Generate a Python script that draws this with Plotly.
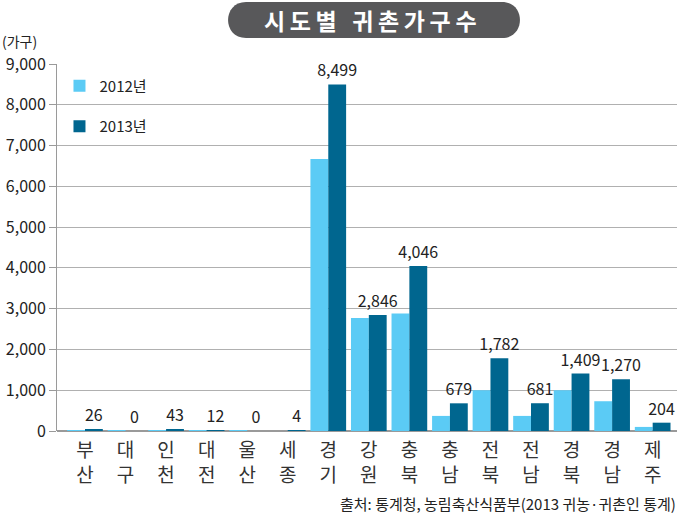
import plotly.graph_objects as go

# 시도별 귀촌가구수 (2012 vs 2013)
regions = ["부<br>산", "대<br>구", "인<br>천", "대<br>전", "울<br>산", "세<br>종", "경<br>기",
           "강<br>원", "충<br>북", "충<br>남", "전<br>북", "전<br>남", "경<br>북", "경<br>남", "제<br>주"]
households_2012 = [10, 5, 20, 15, 3, 0, 6670, 2770, 2880, 370, 1000, 370, 1000, 730, 100]
households_2013 = [26, 0, 43, 12, 0, 4, 8499, 2846, 4046, 679, 1782, 681, 1409, 1270, 204]
y_ticks = [0, 1000, 2000, 3000, 4000, 5000, 6000, 7000, 8000, 9000]

C2012 = "#5bcbf5"
C2013 = "#00668f"
FONT = "Noto Sans CJK KR"

fig = go.Figure()
fig.add_trace(go.Bar(
    x=list(range(len(regions))), y=households_2012, name="2012년",
    marker=dict(color=C2012, line=dict(width=0)), legendgroup="a",
))
fig.add_trace(go.Bar(
    x=list(range(len(regions))), y=households_2013, name="2013년",
    marker=dict(color=C2013, line=dict(width=0)), legendgroup="b",
    text=[f"{v:,}" for v in households_2013], textposition="outside",
    constraintext="none",
    textfont=dict(size=16, color="#222", family=FONT), cliponaxis=False,
))

# 제목 배경 (둥근 캡슐 모양) - paper 좌표
W, H = 620.0, 367.0
def px(x):
    return (x - 57) / W
def py(y):
    return 1 + (64 - y) / H

x0, x1, yt, yb, r = 228, 520, 2, 38, 18
k = r * 1.33
path = (
    f"M {px(x0 + r)} {py(yt)} L {px(x1 - r)} {py(yt)} "
    f"C {px(x1 - r + k)} {py(yt)} {px(x1 - r + k)} {py(yb)} {px(x1 - r)} {py(yb)} "
    f"L {px(x0 + r)} {py(yb)} "
    f"C {px(x0 + r - k)} {py(yb)} {px(x0 + r - k)} {py(yt)} {px(x0 + r)} {py(yt)} Z"
)
fig.add_shape(type="path", path=path, xref="paper", yref="paper",
              fillcolor="#58585a", line=dict(width=0), layer="below")

title = "\u2009".join("시도별") + "   " + "\u2009".join("귀촌가구수")
fig.add_annotation(text=f"<b>{title}</b>", xref="paper", yref="paper",
                   x=px(370), y=py(20), xanchor="center", yanchor="middle", showarrow=False,
                   font=dict(size=23, color="white", family=FONT))
fig.add_annotation(text="(가구)", xref="paper", yref="paper",
                   x=px(0), y=py(41), xanchor="left", yanchor="middle", showarrow=False,
                   font=dict(size=14, color="#222", family=FONT))
fig.add_annotation(text="출처: 통계청, 농림축산식품부(2013 귀농·귀촌인 통계)", xref="paper", yref="paper",
                   x=px(678), y=py(503), xanchor="right", yanchor="middle", showarrow=False,
                   font=dict(size=15, color="#222", family=FONT))

fig.update_layout(
    width=679, height=514,
    margin=dict(l=57, r=2, t=64, b=83, autoexpand=False),
    paper_bgcolor="white", plot_bgcolor="white",
    barmode="group", bargap=0.12, bargroupgap=0,
    font=dict(family=FONT, color="#222"),
    legend=dict(x=0.004, y=0.985, xanchor="left", yanchor="top",
                font=dict(size=15, color="#222", family=FONT),
                tracegroupgap=18, bgcolor="rgba(0,0,0,0)"),
    showlegend=True,
)
fig.update_xaxes(
    tickmode="array", tickvals=list(range(len(regions))), ticktext=regions,
    range=[-0.69, 14.6],
    tickfont=dict(size=19, color="#333", family=FONT),
    showgrid=False, showline=False, ticks="", ticklabelstandoff=6,
)
fig.update_yaxes(
    range=[0, 9000], tickvals=y_ticks, tickformat=",",
    tickfont=dict(size=16, color="#222", family=FONT),
    showgrid=True, gridcolor="#b0b0b0", gridwidth=1,
    showline=True, linecolor="#9a9a9a", ticks="outside", ticklen=7, tickcolor="#9a9a9a",
    zeroline=True, zerolinecolor="#9a9a9a",
)

# 페이지 기본 여백 제거 (창 크기에 정확히 맞춤)
fig.write_html("out.html", config={"displayModeBar": False},
               post_script="document.body.style.margin='0';")
